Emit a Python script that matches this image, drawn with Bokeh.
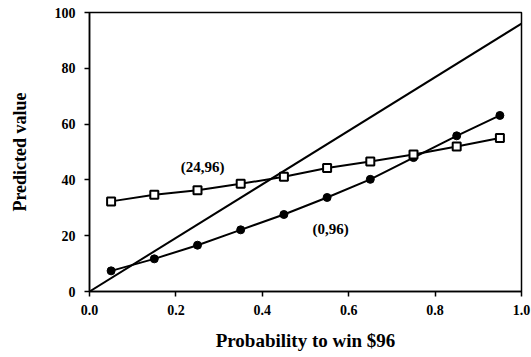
from bokeh.plotting import figure
from bokeh.embed import file_html
from bokeh.resources import INLINE
from bokeh.models import Range1d, FixedTicker, Label

prob = [0.05, 0.15, 0.25, 0.35, 0.45, 0.55, 0.65, 0.75, 0.85, 0.95]
series_24_96 = [32.3, 34.7, 36.3, 38.6, 41.1, 44.3, 46.6, 49.1, 52.0, 55.0]
series_0_96 = [7.4, 11.7, 16.6, 22.1, 27.6, 33.7, 40.2, 48.0, 55.8, 63.1]
ev_x = [0.0, 1.0]
ev_y = [0.0, 96.0]
x_ticks = [0.0, 0.2, 0.4, 0.6, 0.8, 1.0]
y_ticks = [0, 20, 40, 60, 80, 100]

FONT = "Liberation Serif"

p = figure(width=531, height=357, output_backend="svg", toolbar_location=None,
           x_range=Range1d(0, 1.0), y_range=Range1d(0, 100),
           min_border_left=89, min_border_right=10, min_border_top=12, min_border_bottom=66)
p.grid.visible = False
p.background_fill_color = "white"
p.border_fill_color = "white"
p.outline_line_color = "black"
p.outline_line_width = 1.5

p.line(ev_x, ev_y, line_color="black", line_width=2)
p.line(prob, series_0_96, line_color="black", line_width=2)
p.scatter(prob, series_0_96, marker="circle", size=8, fill_color="black", line_color="black")
p.line(prob, series_24_96, line_color="black", line_width=2)
p.scatter(prob, series_24_96, marker="square", size=8, fill_color="white", line_color="black", line_width=2)

p.add_layout(Label(x=0.262, y=44.5, text="(24,96)", text_font=FONT, text_font_style="bold",
                   text_font_size="15px", text_color="black", text_align="center", text_baseline="middle"))
p.add_layout(Label(x=0.558, y=22.5, text="(0,96)", text_font=FONT, text_font_style="bold",
                   text_font_size="15px", text_color="black", text_align="center", text_baseline="middle"))

for ax in (p.xaxis[0], p.yaxis[0]):
    ax.axis_line_color = "black"
    ax.axis_line_width = 1.5
    ax.major_tick_line_color = "black"
    ax.major_tick_line_width = 1.5
    ax.major_tick_out = 5
    ax.major_tick_in = 0
    ax.minor_tick_line_color = None
    ax.major_label_text_font = FONT
    ax.major_label_text_font_style = "bold"
    ax.major_label_text_font_size = "14px"
    ax.major_label_text_color = "black"
    ax.axis_label_text_font = FONT
    ax.axis_label_text_font_style = "bold"
    ax.axis_label_text_color = "black"

p.xaxis.axis_label_text_font_size = "19px"
p.yaxis.axis_label_text_font_size = "18px"
p.xaxis.ticker = FixedTicker(ticks=x_ticks)
p.yaxis.ticker = FixedTicker(ticks=y_ticks)
p.xaxis.major_label_overrides = {t: f"{t:.1f}" for t in x_ticks}
p.xaxis.major_label_standoff = 8
p.yaxis.major_label_standoff = 9
p.xaxis.axis_label = "Probability to win $96"
p.yaxis.axis_label = "Predicted value"
p.xaxis.axis_label_standoff = 12
p.yaxis.axis_label_standoff = 22

open("out.html", "w").write(file_html(p, INLINE))
